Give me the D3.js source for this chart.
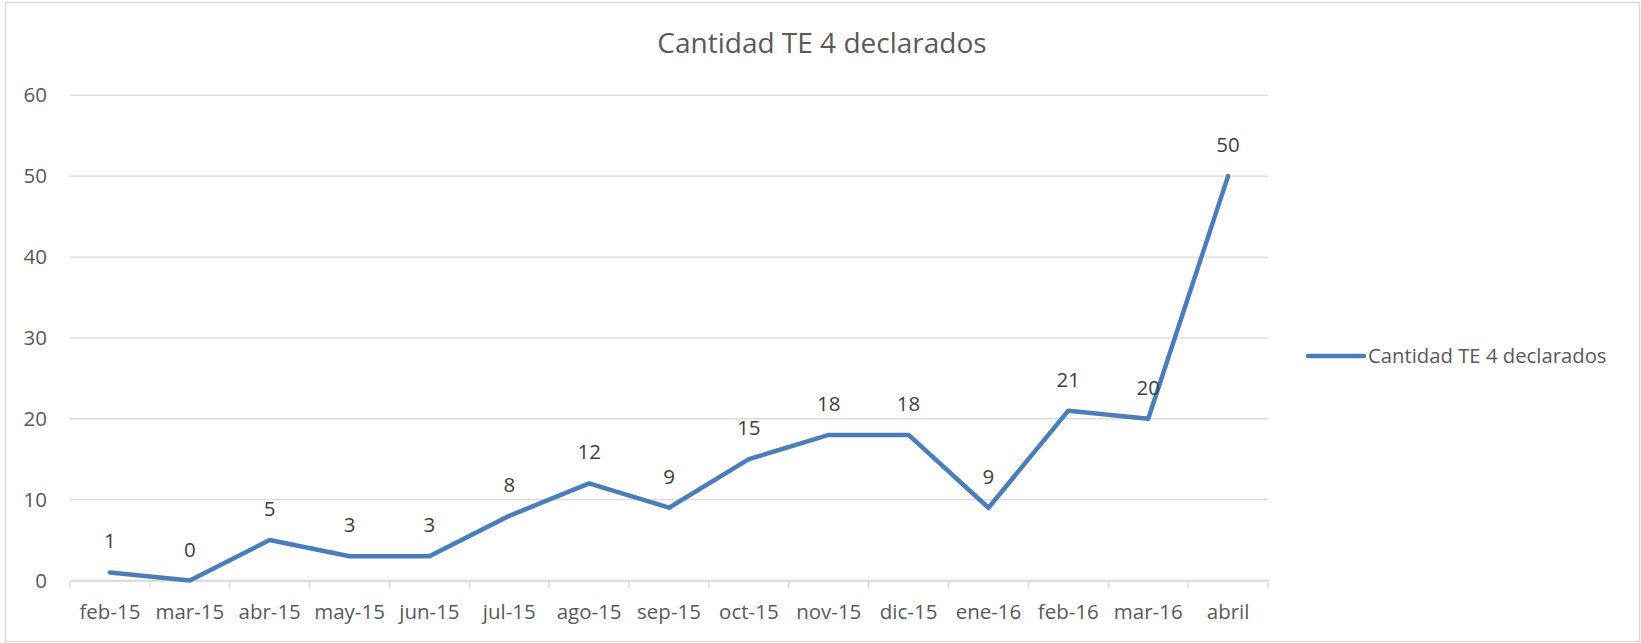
<!DOCTYPE html>
<html><head><meta charset="utf-8">
<script src="https://cdn.jsdelivr.net/npm/d3@7"></script>
<style>
html,body{margin:0;padding:0;background:#fff;}
text{font-family:"Open Sans",sans-serif;}
</style></head>
<body><svg id="c" width="1641" height="643"></svg>
<script>
const categories = ["feb-15","mar-15","abr-15","may-15","jun-15","jul-15","ago-15","sep-15","oct-15","nov-15","dic-15","ene-16","feb-16","mar-16","abril"];
const values = [1,0,5,3,3,8,12,9,15,18,18,9,21,20,50];
const yTicks = [0,10,20,30,40,50,60];
const seriesName = "Cantidad TE 4 declarados";
const title = "Cantidad TE 4 declarados";

const svg = d3.select("#c");
const W = 1641, H = 643;
const m = {left:70, right:1268, top:95.3, bottom:580.5};

svg.append("rect").attr("x",5.5).attr("y",2.5).attr("width",W-7).attr("height",H-4)
  .attr("fill","#fff").attr("stroke","#d9d9d9").attr("stroke-width",1.5);

const x = d3.scaleBand().domain(categories).range([m.left,m.right]);
const y = d3.scaleLinear().domain([0,60]).range([m.bottom,m.top]);

// gridlines
svg.append("g").selectAll("line").data(yTicks).join("line")
  .attr("x1",m.left).attr("x2",m.right)
  .attr("y1",d=>y(d)).attr("y2",d=>y(d))
  .attr("stroke","#d9d9d9").attr("stroke-width",1.3);

// y axis labels
const yAxis = d3.axisLeft(y).tickValues(yTicks).tickSize(0).tickPadding(23);
const gy = svg.append("g").attr("transform",`translate(${m.left},0)`).call(yAxis);
gy.select(".domain").remove();
gy.selectAll("text").attr("font-size",20.5).attr("fill","#595959").attr("font-family","Open Sans");

// x axis
const xAxis = d3.axisBottom(x).tickSize(0).tickPadding(24);
const gx = svg.append("g").attr("transform",`translate(0,${m.bottom})`).call(xAxis);
gx.select(".domain").attr("stroke","#d9d9d9").attr("stroke-width",1.3);
gx.selectAll("text").attr("font-size",20.5).attr("fill","#595959").attr("font-family","Open Sans");
// boundary tick marks
const bounds = categories.map(c=>x(c)).concat([m.right]);
svg.append("g").selectAll("line").data(bounds).join("line")
  .attr("x1",d=>d).attr("x2",d=>d).attr("y1",m.bottom).attr("y2",m.bottom+8)
  .attr("stroke","#d9d9d9").attr("stroke-width",1.3);

const cx = c => x(c)+x.bandwidth()/2;
const pts = categories.map((c,i)=>({c,v:values[i]}));

svg.append("path").datum(pts)
  .attr("d",d3.line().x(d=>cx(d.c)).y(d=>y(d.v)))
  .attr("fill","none").attr("stroke","#4a7ebb").attr("stroke-width",4.5)
  .attr("stroke-linejoin","round").attr("stroke-linecap","round");

svg.append("g").selectAll("text").data(pts).join("text")
  .attr("x",d=>cx(d.c)).attr("y",d=>y(d.v)-24)
  .attr("text-anchor","middle").attr("font-size",20.5).attr("fill","#404040")
  .text(d=>d.v);

// title
svg.append("text").attr("x",822).attr("y",53).attr("text-anchor","middle")
  .attr("font-size",28).attr("fill","#595959").text(title);

// legend
svg.append("line").attr("x1",1308).attr("x2",1364).attr("y1",356).attr("y2",356)
  .attr("stroke","#4a7ebb").attr("stroke-width",4.5).attr("stroke-linecap","round");
svg.append("text").attr("x",1368).attr("y",363).attr("font-size",20.3).attr("fill","#595959").text(seriesName);
</script></body></html>
